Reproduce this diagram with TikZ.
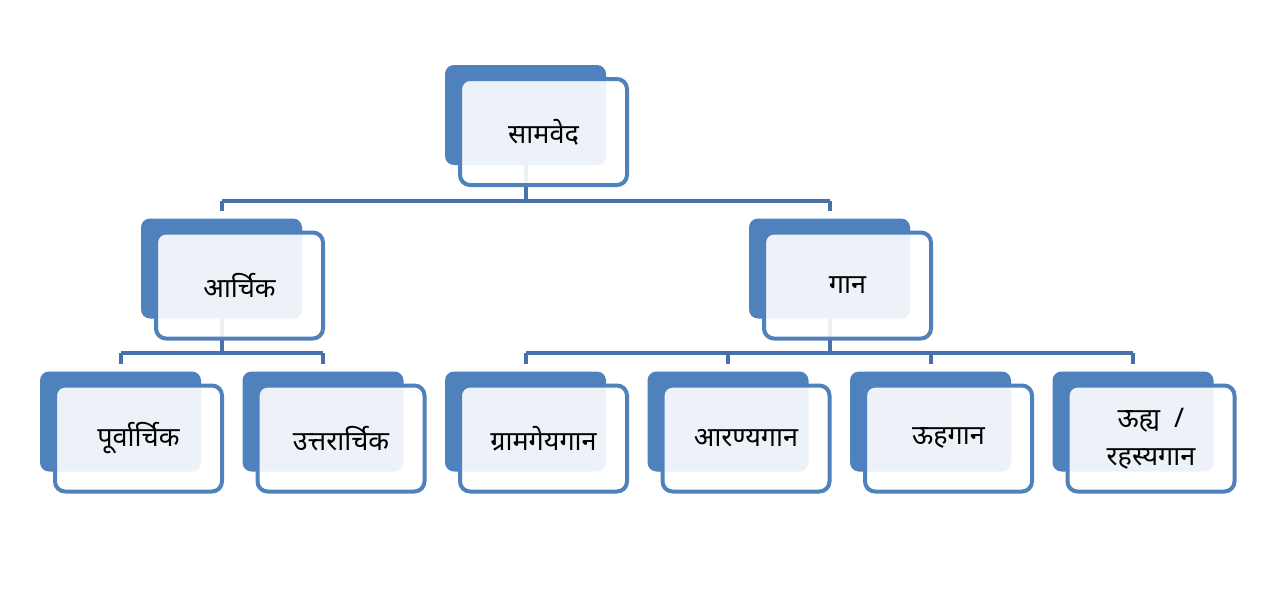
\documentclass[tikz,border=0pt]{standalone}
\usepackage{fontspec}
\newfontfamily\devfont[Script=Devanagari]{Noto Sans}
\definecolor{accent}{HTML}{4F81BD}
\definecolor{linkc}{HTML}{4672A8}
\tikzset{
  backbox/.style={fill=accent, draw=none, rounded corners=9pt, minimum width=161pt, minimum height=100pt, inner sep=0pt},
  frontbox/.style={fill=white, fill opacity=0.9, text opacity=1, draw=accent, line width=4pt, rounded corners=10pt, minimum width=167pt, minimum height=106pt, inner sep=0pt, align=center, font=\devfont\fontsize{27}{38}\selectfont},
  link/.style={draw=linkc, line width=4pt}
}
\begin{document}
\begin{tikzpicture}[x=1pt,y=-1pt]
\useasboundingbox[fill=white] (0,0) rectangle (1275,595);
% back boxes
\node[backbox] (rb) at (525.5,115) {};
\node[backbox] (ab) at (221.5,268.5) {};
\node[backbox] (gb) at (829.5,268.5) {};
\node[backbox] (p1b) at (120.5,421.5) {};
\node[backbox] (p2b) at (323,421.5) {};
\node[backbox] (g1b) at (525.5,421.5) {};
\node[backbox] (g2b) at (728,421.5) {};
\node[backbox] (g3b) at (930.5,421.5) {};
\node[backbox] (g4b) at (1133,421.5) {};
% connectors
\coordinate (bus1) at (0,200.5);
\coordinate (bus2) at (0,353);
\draw[link] (rb.south) -- (rb.south |- bus1);
\draw[link] (ab.north |- bus1) -- (gb.north |- bus1);
\draw[link] (ab.north |- bus1) -- ([yshift=7pt]ab.north);
\draw[link] (gb.north |- bus1) -- ([yshift=7pt]gb.north);
\draw[link] (ab.south) -- (ab.south |- bus2);
\draw[link] (p1b.north |- bus2) -- (p2b.north |- bus2);
\draw[link] (p1b.north |- bus2) -- ([yshift=7pt]p1b.north);
\draw[link] (p2b.north |- bus2) -- ([yshift=7pt]p2b.north);
\draw[link] (gb.south) -- (gb.south |- bus2);
\draw[link] (g1b.north |- bus2) -- (g4b.north |- bus2);
\draw[link] (g1b.north |- bus2) -- ([yshift=7pt]g1b.north);
\draw[link] (g2b.north |- bus2) -- ([yshift=7pt]g2b.north);
\draw[link] (g3b.north |- bus2) -- ([yshift=7pt]g3b.north);
\draw[link] (g4b.north |- bus2) -- ([yshift=7pt]g4b.north);
% front boxes
\node[frontbox] (r) at ([shift={(18,17)}]rb.center) {सामवेद};
\node[frontbox] (a) at ([shift={(18,17)}]ab.center) {आर्चिक};
\node[frontbox] (g) at ([shift={(18,17)}]gb.center) {गान};
\node[frontbox] (p1) at ([shift={(18,17)}]p1b.center) {पूर्वार्चिक};
\node[frontbox] (p2) at ([shift={(18,17)}]p2b.center) {उत्तरार्चिक};
\node[frontbox] (g1) at ([shift={(18,17)}]g1b.center) {ग्रामगेयगान};
\node[frontbox] (g2) at ([shift={(18,17)}]g2b.center) {आरण्यगान};
\node[frontbox] (g3) at ([shift={(18,17)}]g3b.center) {ऊहगान};
\node[frontbox] (g4) at ([shift={(18,17)}]g4b.center) {ऊह्य \ /\\रहस्यगान};
\end{tikzpicture}
\end{document}
